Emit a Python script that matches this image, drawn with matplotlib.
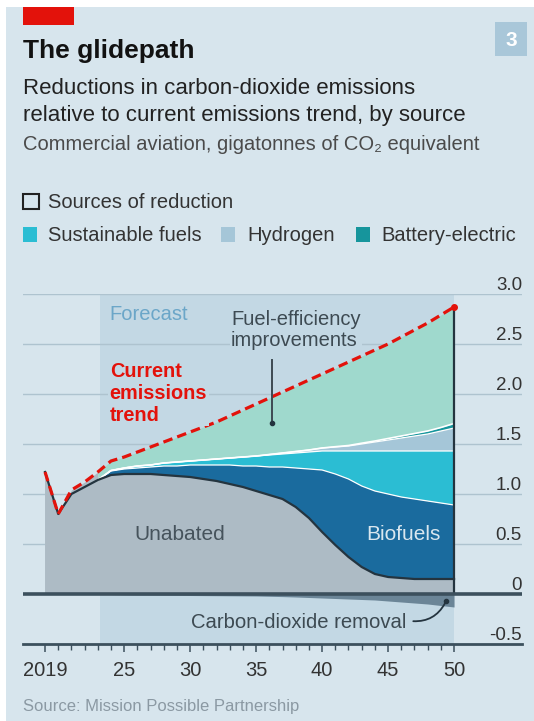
import numpy as np
import matplotlib
matplotlib.use("Agg")
import matplotlib.pyplot as plt
from matplotlib.patches import Rectangle

plt.rcParams['font.family'] = ['Liberation Sans', 'DejaVu Sans']

years = np.arange(2019, 2051)

# gigatonnes of CO2
trend = [1.22, 0.80, 1.04, 1.12, 1.22, 1.33, 1.37, 1.42, 1.47, 1.52, 1.57, 1.62,
         1.67, 1.72, 1.78, 1.84, 1.90, 1.96, 2.02, 2.08, 2.14, 2.20, 2.26, 2.32,
         2.38, 2.44, 2.50, 2.57, 2.64, 2.71, 2.79, 2.87]
unabated = [1.22, 0.80, 1.00, 1.07, 1.14, 1.19, 1.20, 1.20, 1.20, 1.19, 1.18, 1.17,
            1.15, 1.13, 1.10, 1.07, 1.03, 0.99, 0.95, 0.87, 0.76, 0.62, 0.49, 0.37,
            0.27, 0.20, 0.17, 0.16, 0.15, 0.15, 0.15, 0.15]
biofuels = [0, 0, 0, 0, 0, 0.04, 0.05, 0.06, 0.07, 0.09, 0.10, 0.12,
            0.14, 0.16, 0.19, 0.21, 0.25, 0.28, 0.32, 0.39, 0.49, 0.62, 0.71, 0.78,
            0.81, 0.83, 0.83, 0.81, 0.80, 0.78, 0.76, 0.74]
sustainable = [0, 0, 0, 0, 0, 0.005, 0.01, 0.02, 0.02, 0.03, 0.04, 0.04,
               0.05, 0.06, 0.07, 0.09, 0.10, 0.12, 0.13, 0.15, 0.17, 0.19, 0.23, 0.28,
               0.35, 0.40, 0.43, 0.46, 0.48, 0.50, 0.52, 0.54]
hydrogen = [0, 0, 0, 0, 0, 0, 0, 0, 0, 0, 0, 0,
            0, 0, 0, 0, 0, 0.005, 0.01, 0.015, 0.02, 0.03, 0.04, 0.05,
            0.07, 0.09, 0.11, 0.13, 0.15, 0.17, 0.20, 0.23]
battery = [0, 0, 0, 0, 0, 0, 0, 0, 0, 0, 0, 0,
           0, 0, 0, 0, 0, 0, 0, 0, 0, 0, 0.003, 0.005,
           0.008, 0.01, 0.015, 0.02, 0.025, 0.03, 0.035, 0.045]
removal = [0, 0, 0, 0, 0, -0.005, -0.008, -0.01, -0.011, -0.012, -0.013, -0.015,
           -0.016, -0.017, -0.018, -0.019, -0.02, -0.023, -0.026, -0.03, -0.035, -0.04,
           -0.045, -0.05, -0.055, -0.06, -0.07, -0.08, -0.09, -0.10, -0.115, -0.13]

y_ticks = [-0.5, 0, 0.5, 1.0, 1.5, 2.0, 2.5, 3.0]
y_labels = ['-0.5', '0', '0.5', '1.0', '1.5', '2.0', '2.5', '3.0']
x_ticks = [2019, 2025, 2030, 2035, 2040, 2045, 2050]
x_labels = ['2019', '25', '30', '35', '40', '45', '50']
legend_items = ['Sustainable fuels', 'Hydrogen', 'Battery-electric']

BG = '#d7e5ed'
FORECAST = '#c3d8e4'
GRID = '#aec3cf'
DARK = '#3c505d'
RED = '#e3120b'
C_UNABATED = '#adbbc5'
C_BIO = '#1a6b9e'
C_SUST = '#2bbdd3'
C_H2 = '#a5c6d8'
C_BATT = '#16959c'
C_EFF = '#9fd9cd'
C_REM = '#6b8597'

W, H = 534, 721
fig = plt.figure(figsize=(W / 100, H / 100), dpi=100, facecolor='white')


def box(x, y, w, h, **kw):
    # rectangle given in pixels from the top-left corner
    fig.add_artist(Rectangle((x / W, 1 - (y + h) / H), w / W, h / H,
                             transform=fig.transFigure, **kw))


def ftext(x, y, s, **kw):
    fig.text(x / W, 1 - y / H, s, **kw)


box(6, 7, W - 6, H - 7, facecolor=BG, edgecolor='none', zorder=-10)
box(23, 7, 51, 18, facecolor=RED, edgecolor='none')
box(495, 22, 32, 34, facecolor='#a9c7d9', edgecolor='none')
ftext(511, 40, '3', ha='center', va='center', fontsize=15, weight='bold', color='white')

ftext(23, 58, 'The glidepath', fontsize=19, weight='bold', color='#121212', va='baseline')
ftext(23, 93.5, 'Reductions in carbon-dioxide emissions', fontsize=16, color='#222222', va='baseline')
ftext(23, 121, 'relative to current emissions trend, by source', fontsize=16, color='#222222',
      va='baseline')
ftext(23, 149.5, 'Commercial aviation, gigatonnes of CO₂ equivalent', fontsize=14.5,
      color='#4a4a4a', va='baseline')

box(23, 194, 16, 15, facecolor='none', edgecolor='#222222', linewidth=1.5)
ftext(48, 208, 'Sources of reduction', fontsize=14.5, color='#333333', va='baseline')
for sx, tx, label, col in zip([23, 221, 356], [48, 247, 381], legend_items, [C_SUST, C_H2, C_BATT]):
    box(sx, 227, 14, 15, facecolor=col, edgecolor='none')
    ftext(tx, 241, label, fontsize=14.5, color='#333333', va='baseline')

ax = fig.add_axes([23 / W, 1 - 644 / H, 499 / W, 350 / H])
ax.set_facecolor('none')
ax.set_xlim(2017.33, 2055.15)
ax.set_ylim(-0.5, 3.0)
for s in ax.spines.values():
    s.set_visible(False)
ax.set_yticks([])

ax.axvspan(2023.2, 2050, color=FORECAST, zorder=0, lw=0)
for v in y_ticks[2:]:
    ax.axhline(v, color=GRID, lw=1, zorder=1)

ax.fill_between(years[:5], unabated[:5], trend[:5], color=C_UNABATED, lw=0, zorder=2)
ax.stackplot(years, unabated, biofuels, sustainable, hydrogen, battery,
             colors=[C_UNABATED, C_BIO, C_SUST, C_H2, C_BATT], linewidth=0, zorder=2)
layers = np.cumsum([unabated, biofuels, sustainable, hydrogen, battery], axis=0)
top = layers[-1]
fc = years >= 2023
ax.fill_between(years[fc], top[fc], np.array(trend)[fc], color=C_EFF, lw=0, zorder=2)
# thin white seams between the reduction sources
for i, layer in enumerate(layers[1:]):
    ax.plot(years[fc], layer[fc], color='white', lw=0.9 if i != 3 else 1.2, zorder=3)
ax.fill_between(years, removal, 0, color=C_REM, lw=0, zorder=2)
ax.plot(years, unabated, color='#24343f', lw=1.6, zorder=3)
ax.vlines(2050, 0, trend[-1], color='#24343f', lw=1.6, zorder=3)

ax.axhline(0, color=DARK, lw=2.6, zorder=4)
ax.axhline(-0.5, color=DARK, lw=2, zorder=4, clip_on=False)

ax.plot(years, trend, color=RED, lw=2.3, dashes=(3, 1.6), zorder=5)
ax.plot(years[-1], trend[-1], 'o', color=RED, ms=4, zorder=5)

for v, lab in zip(y_ticks, y_labels):
    ax.text(2055.15, v + 0.045, lab, ha='right', va='baseline', fontsize=13.5, color='#333333')

ax.set_xticks(x_ticks)
ax.set_xticklabels(x_labels)
ax.set_xticks(years, minor=True)
ax.tick_params(axis='x', which='major', length=6, width=1.1, color=DARK, pad=6,
               labelsize=14.5, labelcolor='#333333')
ax.tick_params(axis='x', which='minor', length=4, width=1, color=DARK)

ax.text(2023.9, 2.79, 'Forecast', fontsize=14.5, color='#6ba6c8', va='center', zorder=6)
ax.text(2023.9, 2.01, 'Current\nemissions\ntrend', fontsize=14.3, weight='bold', color=RED,
        va='center', linespacing=1.2, zorder=6,
        bbox=dict(facecolor=FORECAST, edgecolor='none', pad=1))
ax.text(2033.1, 2.64, 'Fuel-efficiency\nimprovements', fontsize=14.5, color='#3d4a52',
        va='center', linespacing=1.15, zorder=6,
        bbox=dict(facecolor=FORECAST, edgecolor='none', pad=1))
ax.plot([2036.2, 2036.2], [2.34, 1.71], color='#3d4a52', lw=1.4, zorder=6)
ax.plot(2036.2, 1.71, 'o', color='#24343f', ms=3, zorder=6)
ax.text(2029.2, 0.59, 'Unabated', fontsize=15, color='#46535c', ha='center', va='center', zorder=6)
ax.text(2046.2, 0.59, 'Biofuels', fontsize=15, color='#d9e7ef', ha='center', va='center', zorder=6)
ax.text(2038.2, -0.29, 'Carbon-dioxide removal', fontsize=14.6, color='#3d4a52',
        ha='center', va='center', zorder=6)
ax.annotate('', xy=(2049.4, -0.07), xytext=(2046.7, -0.27),
            arrowprops=dict(arrowstyle='-', color='#24343f', lw=1.3,
                            connectionstyle='arc3,rad=0.35'), zorder=6)
ax.plot(2049.4, -0.07, 'o', color='#24343f', ms=3, zorder=6)

ftext(23, 706, 'Source: Mission Possible Partnership', fontsize=12, color='#8b99a3', va='center')

fig.savefig('out.png', dpi=100, facecolor=fig.get_facecolor())
